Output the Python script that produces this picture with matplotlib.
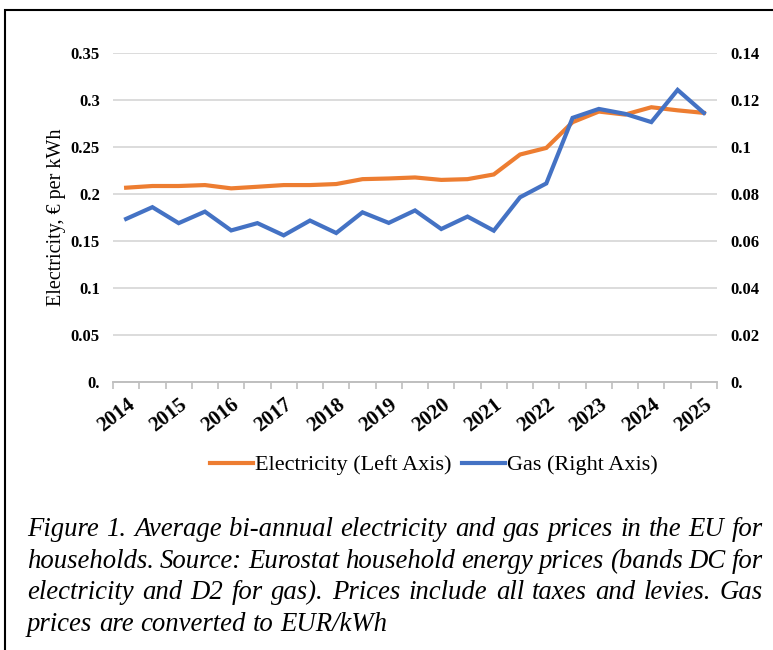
import matplotlib
matplotlib.use("Agg")
import matplotlib.pyplot as plt
from matplotlib.patches import Rectangle
from matplotlib.ticker import FixedLocator

# ---------------- data ----------------
semesters = ["2014S1", "2014S2", "2015S1", "2015S2", "2016S1", "2016S2", "2017S1", "2017S2",
             "2018S1", "2018S2", "2019S1", "2019S2", "2020S1", "2020S2", "2021S1", "2021S2",
             "2022S1", "2022S2", "2023S1", "2023S2", "2024S1", "2024S2", "2025S1"]
electricity = [0.2067, 0.2085, 0.2085, 0.2095, 0.2060, 0.2077, 0.2095, 0.2095,
               0.2106, 0.2158, 0.2165, 0.2176, 0.2150, 0.2158, 0.2208, 0.2420,
               0.2490, 0.2764, 0.2877, 0.2845, 0.2923, 0.2890, 0.2863]
gas = [0.0694, 0.0744, 0.0676, 0.0725, 0.0645, 0.0676, 0.0624, 0.0687,
       0.0634, 0.0722, 0.0677, 0.0730, 0.0651, 0.0704, 0.0644, 0.0786,
       0.0845, 0.1124, 0.1162, 0.1141, 0.1106, 0.1243, 0.1145]
year_labels = ["2014", "2015", "2016", "2017", "2018", "2019", "2020", "2021",
               "2022", "2023", "2024", "2025"]
left_ticks = [0.0, 0.05, 0.1, 0.15, 0.2, 0.25, 0.3, 0.35]
left_tick_labels = ["0.", "0.05", "0.1", "0.15", "0.2", "0.25", "0.3", "0.35"]
right_ticks = [0.0, 0.02, 0.04, 0.06, 0.08, 0.1, 0.12, 0.14]
right_tick_labels = ["0.", "0.02", "0.04", "0.06", "0.08", "0.1", "0.12", "0.14"]
caption_lines = [
    "Figure 1. Average bi-annual electricity and gas prices in the EU for",
    "households. Source: Eurostat household energy prices (bands DC for",
    "electricity and D2 for gas). Prices include all taxes and levies. Gas",
    "prices are converted to EUR/kWh",
]

# ---------------- style ----------------
W, H = 773, 650
SERIF = ["Liberation Serif", "DejaVu Serif"]
ORANGE = "#ED7D31"
BLUE = "#4472C4"
GRID = "#D9D9D9"
AXIS = "#BFBFBF"

fig = plt.figure(figsize=(W / 100, H / 100), dpi=100)

# outer frame (cut off at right / bottom like the reference)
fig.patches.append(Rectangle((5 / W, -0.05), 1.1, 1 - 10 / H + 0.05,
                             transform=fig.transFigure, fill=False,
                             edgecolor="black", linewidth=1.5))

ax_l, ax_r, ax_t, ax_b = 113, 717, 53, 382
ax = fig.add_axes([ax_l / W, 1 - ax_b / H, (ax_r - ax_l) / W, (ax_b - ax_t) / H])
ax2 = ax.twinx()

x = list(range(len(semesters)))
l1, = ax.plot(x, electricity, color=ORANGE, lw=3, solid_joinstyle="miter",
              label="Electricity (Left Axis)", zorder=3)
l2, = ax2.plot(x, gas, color=BLUE, lw=3, solid_joinstyle="miter",
               label="Gas (Right Axis)", zorder=3)

ax.set_xlim(-0.5, len(semesters) - 0.5)
ax.set_ylim(0, 0.35)
ax2.set_ylim(0, 0.14)

# left y axis
ax.yaxis.set_major_locator(FixedLocator(left_ticks))
ax.set_yticklabels(left_tick_labels)
ax.tick_params(axis="y", length=0, pad=9.5)
for t in ax.get_yticklabels():
    t.set_fontfamily(SERIF); t.set_fontweight("bold"); t.set_fontsize(12)
ax.grid(axis="y", color=GRID, lw=1.3)
ax.set_axisbelow(True)

# right y axis
ax2.yaxis.set_major_locator(FixedLocator(right_ticks))
ax2.set_yticklabels(right_tick_labels)
ax2.tick_params(axis="y", length=0, pad=9.5)
for t in ax2.get_yticklabels():
    t.set_fontfamily(SERIF); t.set_fontweight("bold"); t.set_fontsize(12)

for a in (ax, ax2):
    for s in ("top", "left", "right"):
        a.spines[s].set_visible(False)
    a.spines["bottom"].set_color(AXIS)
    a.spines["bottom"].set_linewidth(1.2)

# x axis: category boundaries as tick marks, year labels every 2 categories
ax.xaxis.set_minor_locator(FixedLocator([i - 0.5 for i in range(len(semesters) + 1)]))
ax.xaxis.set_major_locator(FixedLocator(list(range(0, len(semesters), 2))))
ax.set_xticklabels(year_labels)
ax.tick_params(axis="x", which="minor", length=5, color=AXIS, width=1.2, direction="out")
ax.tick_params(axis="x", which="major", length=0, pad=9)
for t in ax.get_xticklabels():
    t.set_fontfamily(SERIF); t.set_fontweight("bold"); t.set_fontsize(15)
    t.set_rotation(38); t.set_ha("right"); t.set_va("top")
    t.set_rotation_mode("anchor")

ax.set_ylabel("Electricity, € per kWh", fontfamily=SERIF, fontsize=14.5, labelpad=3)

# legend
fig.legend(handles=[l1, l2], loc="center", bbox_to_anchor=(434 / W, 1 - 465 / H),
           ncol=2, frameon=False, prop={"family": SERIF, "size": 16},
           handlelength=1.9, handletextpad=0.1, columnspacing=0.5)

# ---------------- justified italic caption ----------------
cap_left, cap_right = 27, 763
baselines = [536, 568, 599, 631]
renderer = fig.canvas.get_renderer()
cap_font = dict(fontfamily=SERIF, fontstyle="italic", fontsize=19.3)
for li, (line, yb) in enumerate(zip(caption_lines, baselines)):
    words = line.split(" ")
    texts = [fig.text(0, 1 - yb / H, w, va="baseline", ha="left", **cap_font) for w in words]
    widths = [t.get_window_extent(renderer).width for t in texts]
    sp = fig.text(0, 0, "a b", **cap_font)
    ab = fig.text(0, 0, "ab", **cap_font)
    normal_gap = sp.get_window_extent(renderer).width - ab.get_window_extent(renderer).width
    sp.remove(); ab.remove()
    if li < len(caption_lines) - 1 and len(words) > 1:
        gap = (cap_right - cap_left - sum(widths)) / (len(words) - 1)
        gap = max(gap, 0.5 * normal_gap)
    else:
        gap = normal_gap
    xpos = cap_left
    for t, w in zip(texts, widths):
        t.set_x(xpos / W)
        xpos += w + gap

fig.savefig("out.png", dpi=100)
